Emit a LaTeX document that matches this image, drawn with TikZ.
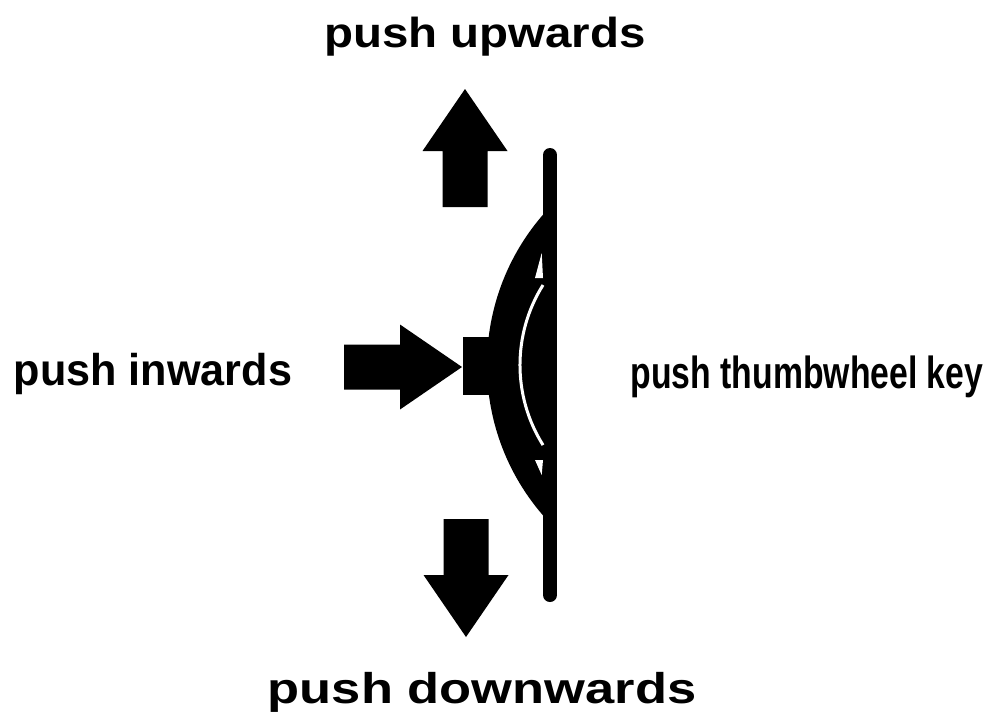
\documentclass[tikz,border=0pt]{standalone}
\usepackage{fontspec}
\setmainfont{Liberation Sans}
\usepackage{tikz}
\usetikzlibrary{calc, positioning}
\newcommand{\fatarrow}[2]{
    \fill[shift={(#1)}, rotate=#2] (0, 0) -- (-62, 42.5) -- (-62, 22.5) -- (-118, 22.5)
        -- (-118, -22.5) -- (-62, -22.5) -- (-62, -42.5) -- cycle;
}
\newcommand{\stretched}[3]{\scalebox{#1}[1]{\fontsize{#2}{#2}\selectfont #3}}
\tikzset{
    lbl/.style={inner sep=0pt, anchor=base, font=\bfseries}
}
\begin{document}
\begin{tikzpicture}[x=1pt, y=-1pt]
                                        \useasboundingbox (0, 0) rectangle (985, 713);
                                        % labels
                                        \node[lbl] (up) at (485, 47) {\stretched{1.13}{42}{push upwards}};
                                        \node[lbl] (inwards) at (153, 385) {\stretched{0.97}{44.5}{push inwards}};
                                        \node[lbl] (down) at (482, 703) {\stretched{1.22}{43}{push downwards}};
                                        \node[lbl] (key) at (807, 388) {\stretched{0.75}{45}{push thumbwheel key}};
                                        % arrows
                                        \fatarrow{465, 89}{90}
                                        \fatarrow{466, 637}{-90}
                                        \fatarrow{462, 367}{0}
                                        % thumbwheel
                                        \draw[line width=14, line cap=round] (550, 155) -- (550, 595);
                                        \fill (550, 207) arc[start angle=223.5, end angle=136.5, radius=229.6] -- cycle;
                                        \fill (463, 337) rectangle (492, 395);
                                        \draw[white, line width=3] (543, 285) arc[start angle=212.1, end angle=147.9, radius=150.6];
                                        \fill[white] (541.7, 253) -- (535, 278) -- (543, 278) -- cycle;
                                        \fill[white] (535, 460) -- (543, 460) -- (541.7, 475) -- cycle;
                                    \end{tikzpicture}
\end{document}
